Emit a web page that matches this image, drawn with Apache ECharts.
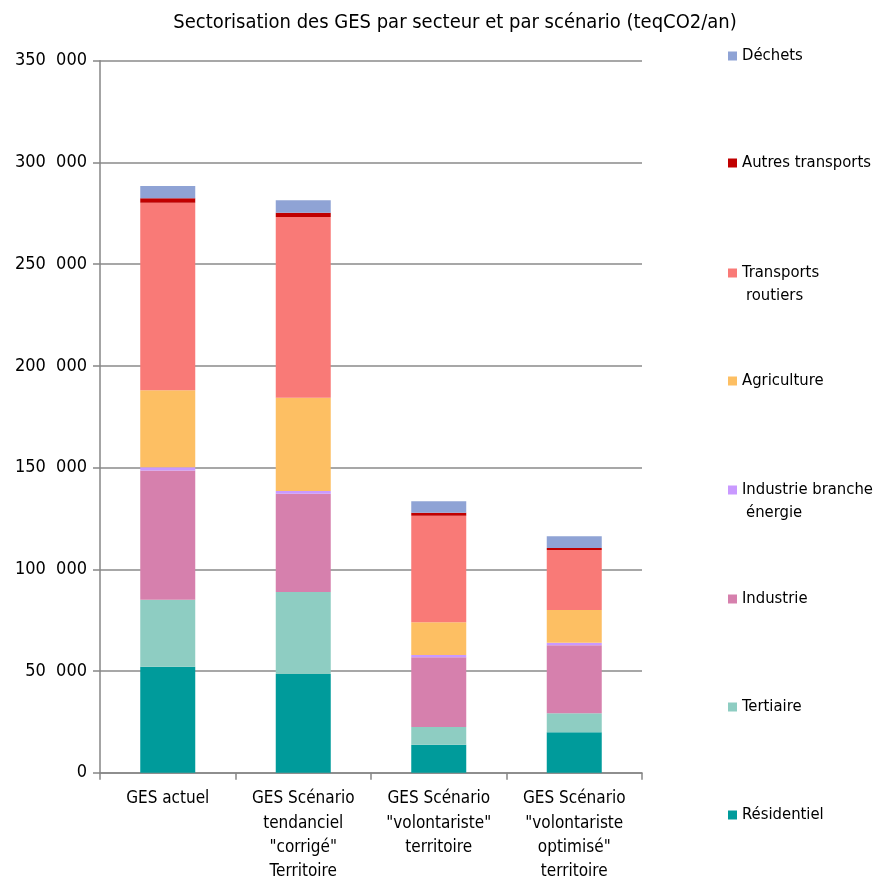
<!DOCTYPE html>
<html>
<head>
<meta charset="utf-8">
<script src="https://cdn.jsdelivr.net/npm/echarts@6/dist/echarts.min.js"></script>
<style>html,body{margin:0;padding:0;background:#fff}#c{width:879px;height:879px}</style>
</head>
<body>
<div id="c"></div>
<script>
const categories = ['GES actuel', 'GES Scénario\ntendanciel\n"corrigé"\nTerritoire', 'GES Scénario\n"volontariste"\nterritoire', 'GES Scénario\n"volontariste\noptimisé"\nterritoire'];
const residentiel = [52100, 48500, 13800, 19900];
const tertiaire = [32900, 40300, 8700, 9300];
const industrie = [63500, 48300, 34200, 33400];
const industrieBrancheEnergie = [1600, 1400, 1200, 1300];
const agriculture = [37900, 45800, 16000, 16100];
const transportsRoutiers = [92200, 88900, 52400, 29500];
const autresTransports = [2200, 2100, 1500, 1000];
const dechets = [6000, 6100, 5600, 5700];
const yTicks = [0, 50000, 100000, 150000, 200000, 250000, 300000, 350000];

const FONT = '"Liberation Sans Narrow", "Arial Narrow", "DejaVu Sans Condensed", sans-serif';
const seriesDefs = [
  ['Résidentiel', residentiel, '#009B9B'],
  ['Tertiaire', tertiaire, '#8ECDC2'],
  ['Industrie', industrie, '#D680AD'],
  ['Industrie branche énergie', industrieBrancheEnergie, '#C999FF'],
  ['Agriculture', agriculture, '#FDBF63'],
  ['Transports routiers', transportsRoutiers, '#F97A77'],
  ['Autres transports', autresTransports, '#C00000'],
  ['Déchets', dechets, '#8FA3D5']
];
const legendY = {'Déchets':54,'Autres transports':161,'Transports routiers':271,'Agriculture':379,'Industrie branche énergie':488,'Industrie':597,'Tertiaire':705,'Résidentiel':813};
const firstLine = {'Transports routiers':'Transports','Industrie branche énergie':'Industrie branche'};
const secondLine = {'Transports routiers':'routiers','Industrie branche énergie':'énergie'};

const legends = seriesDefs.map(([name]) => ({
  data: [name],
  left: 728,
  top: legendY[name] - 8,
  orient: 'vertical',
  itemWidth: 9,
  itemHeight: 9,
  itemGap: 0,
  itemTextGap: 9,
  padding: 0,
  icon: 'rect',
  selectedMode: false,
  formatter: n => firstLine[n] || n,
  textStyle: {fontFamily: FONT, fontSize: 16.5, color: '#000', lineHeight: 20}
}));
const graphics = Object.keys(secondLine).map(n => ({
  type: 'text', left: 746, top: legendY[n] + 16,
  style: {text: secondLine[n], font: '16.5px ' + FONT, fill: '#000'}
}));

const chart = echarts.init(document.getElementById('c'), null, {renderer: 'canvas'});
chart.setOption({
  animation: false,
  backgroundColor: '#fff',
  title: {
    text: 'Sectorisation des GES par secteur et par scénario (teqCO2/an)',
    left: 450, top: 8, textAlign: 'center',
    textStyle: {fontFamily: FONT, fontSize: 20, fontWeight: 'normal', color: '#000'}
  },
  legend: legends,
  graphic: graphics,
  grid: {left: 100, right: 237, top: 60.7, bottom: 106.3, containLabel: false, outerBoundsMode: 'none'},
  xAxis: {
    type: 'category', data: categories,
    axisLine: {lineStyle: {color: '#868686', width: 1.5}},
    axisTick: {show: true, length: 7, alignWithLabel: false, lineStyle: {color: '#868686', width: 1.5}},
    axisLabel: {fontFamily: FONT, fontSize: 17, color: '#000', lineHeight: 24.3, margin: 14, interval: 0}
  },
  yAxis: {
    type: 'value', min: 0, max: 350000, interval: 50000,
    axisLine: {show: true, lineStyle: {color: '#868686', width: 1.5}},
    axisTick: {show: true, length: 7, lineStyle: {color: '#868686', width: 1.5}},
    splitLine: {lineStyle: {color: '#8a8a8a', width: 1.5}},
    axisLabel: {
      fontFamily: FONT, fontSize: 18, color: '#000', margin: 13,
      formatter: v => yTicks.includes(v) ? (v === 0 ? '0' : (v / 1000) + '  000') : ''
    }
  },
  series: seriesDefs.map(([name, data, color]) => ({
    name, type: 'bar', stack: 'total', data, barWidth: 55,
    itemStyle: {color}
  }))
});
</script>
</body>
</html>
